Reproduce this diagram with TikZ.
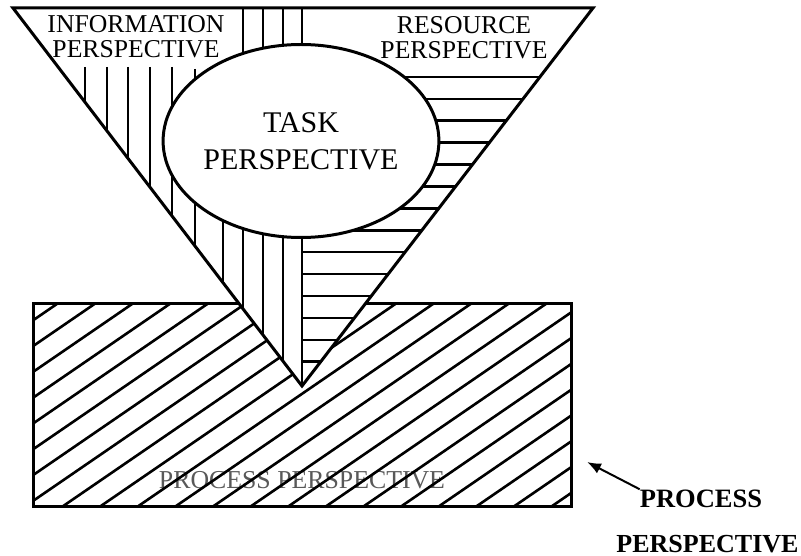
\documentclass[tikz,border=0pt]{standalone}
\usepackage{fontspec}
\setmainfont{Liberation Serif}
\usetikzlibrary{arrows.meta,shapes.geometric,positioning}

\begin{document}
\begin{tikzpicture}[x=1pt,y=-1pt,
  thickline/.style={line width=3pt},
  hatchline/.style={line width=2.6pt},
  toptext/.style={inner sep=0pt,align=center,font=\fontsize{25.7}{25}\selectfont}]
\useasboundingbox (0,0) rectangle (801,556);

\coordinate (tl) at (13,8);
\coordinate (tr) at (593,8);
\coordinate (mid) at (302,8);
\coordinate (apex) at (302,386);

\node[inner sep=0pt,anchor=base,text=black!65,font=\fontsize{25.8}{26}\selectfont] (procin) at (302,488) {PROCESS PERSPECTIVE};
\begin{scope}
\clip (33,304) rectangle (571,506);
\foreach \k in {0,...,23}
  \draw[hatchline] (0,317.2+25.8*\k) -- (600,317.2+25.8*\k-411.6);
\end{scope}
\draw[thickline] (33,304) rectangle (571,506);

\fill[white] (tl) -- (tr) -- (apex) -- cycle;
\begin{scope}
\clip (mid) -- (tr) -- (apex) -- cycle;
\foreach \k in {0,...,13}
  \draw[hatchline] (302,77+21.9*\k) -- (600,77+21.9*\k);
\end{scope}
\begin{scope}
\clip (tl) -- (mid) -- (apex) -- cycle;
\foreach \x/\y in {85/67,107/67,128/67,150/67,172/67,195/69,223/72,243/8,263/8,283/8}
  \draw[hatchline] (\x,\y) -- (\x,390);
\end{scope}
\draw[hatchline] (mid) -- (apex);

\node[draw,ellipse,thickline,fill=white,minimum width=232pt,minimum height=193pt,inner sep=0pt,align=center,font=\fontsize{30}{37}\selectfont] (task) at (301,141) {TASK\\PERSPECTIVE};
\draw[thickline,line join=miter] (tl) -- (tr) -- (apex) -- cycle;

\node[toptext,anchor=north] (info) at (136,15) {INFORMATION\\PERSPECTIVE};
\node[toptext,anchor=north] (res) at (464,16) {RESOURCE\\PERSPECTIVE};

\node[inner sep=0pt,anchor=base,font=\bfseries\fontsize{26.5}{26}\selectfont] (procA) at (701,507) {PROCESS};
\node[inner sep=0pt,anchor=base,font=\bfseries\fontsize{26}{26}\selectfont] (procB) at (707.5,552) {PERSPECTIVE};
\coordinate (tip) at (587,462);
\draw[line width=2pt,-{Latex[length=14pt,width=11pt]}] (procA.north west) -- (tip);
\end{tikzpicture}
\end{document}
